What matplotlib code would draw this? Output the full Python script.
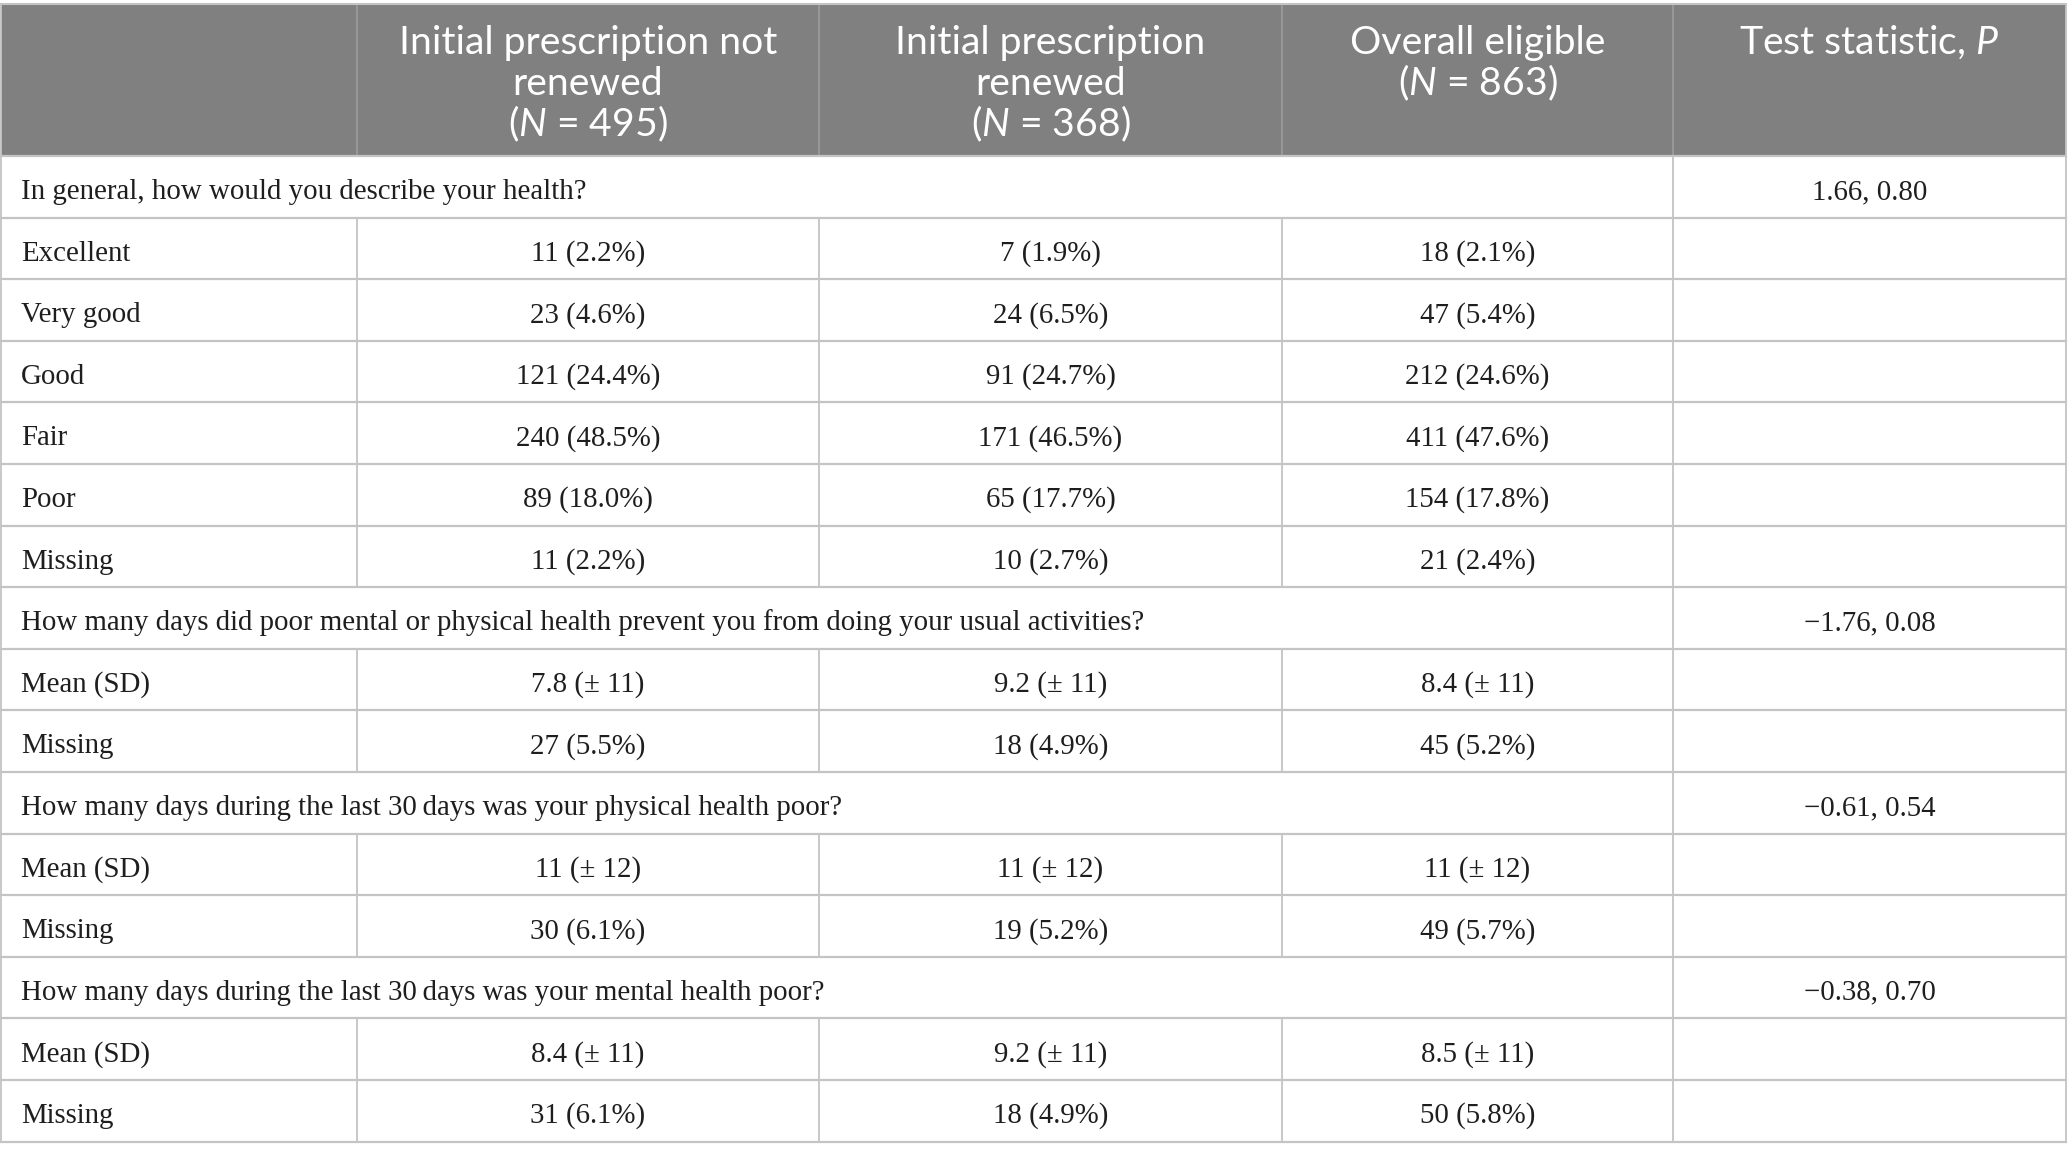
import matplotlib
matplotlib.use("Agg")
import matplotlib.pyplot as plt
from matplotlib.patches import Rectangle

# ---------------- data ----------------
header_cols = [
    ["Initial prescription not", "renewed", "($N$ = 495)"],
    ["Initial prescription", "renewed", "($N$ = 368)"],
    ["Overall eligible", "($N$ = 863)"],
    ["Test statistic, $P$"],
]

questions = [
    "In general, how would you describe your health?",
    "How many days did poor mental or physical health prevent you from doing your usual activities?",
    "How many days during the last 30\u2009days was your physical health poor?",
    "How many days during the last 30\u2009days was your mental health poor?",
]
test_stats = ["1.66, 0.80", "\u22121.76, 0.08", "\u22120.61, 0.54", "\u22120.38, 0.70"]

row_labels = [
    ["Excellent", "Very good", "Good", "Fair", "Poor", "Missing"],
    ["Mean (SD)", "Missing"],
    ["Mean (SD)", "Missing"],
    ["Mean (SD)", "Missing"],
]
not_renewed = [
    ["11 (2.2%)", "23 (4.6%)", "121 (24.4%)", "240 (48.5%)", "89 (18.0%)", "11 (2.2%)"],
    ["7.8 (\u00b1 11)", "27 (5.5%)"],
    ["11 (\u00b1 12)", "30 (6.1%)"],
    ["8.4 (\u00b1 11)", "31 (6.1%)"],
]
renewed = [
    ["7 (1.9%)", "24 (6.5%)", "91 (24.7%)", "171 (46.5%)", "65 (17.7%)", "10 (2.7%)"],
    ["9.2 (\u00b1 11)", "18 (4.9%)"],
    ["11 (\u00b1 12)", "19 (5.2%)"],
    ["9.2 (\u00b1 11)", "18 (4.9%)"],
]
overall = [
    ["18 (2.1%)", "47 (5.4%)", "212 (24.6%)", "411 (47.6%)", "154 (17.8%)", "21 (2.4%)"],
    ["8.4 (\u00b1 11)", "45 (5.2%)"],
    ["11 (\u00b1 12)", "49 (5.7%)"],
    ["8.5 (\u00b1 11)", "50 (5.8%)"],
]

# ---------------- style ----------------
W, H = 2068, 1156
col_edges = [1, 357, 819, 1282, 1673, 2066]
header_top, header_bot = 4, 156
row_h = 61.6
header_bg = "#7f807f"
grid_col = "#c4c4c4"
text_col = "#1e1e1e"
head_font = "Lato"
body_font = "Liberation Serif"
base_off = 43

plt.rcParams["mathtext.fontset"] = "custom"
plt.rcParams["mathtext.rm"] = head_font
plt.rcParams["mathtext.it"] = head_font + ":italic"

fig = plt.figure(figsize=(W / 100, H / 100), dpi=100)
ax = fig.add_axes([0, 0, 1, 1])
ax.set_xlim(0, W)
ax.set_ylim(H, 0)
ax.axis("off")
renderer = fig.canvas.get_renderer()


def fit_size(text, family, target_px, base=20):
    t = ax.text(0, 0, text, family=family, fontsize=base)
    w = t.get_window_extent(renderer).width
    t.remove()
    return base * target_px / w


head_fs = fit_size("Initial prescription not", head_font, 379)
body_fs = fit_size(questions[0], body_font, 563)

# header background
ax.add_patch(Rectangle((col_edges[0], header_top), col_edges[-1] - col_edges[0],
                       header_bot - header_top, facecolor=header_bg, edgecolor="none", zorder=1))
ax.plot([col_edges[0], col_edges[-1]], [header_top, header_top], color=grid_col, lw=1.5, zorder=3)
for x in col_edges[1:-1]:
    ax.plot([x, x], [header_top, header_bot], color="#9c9c9c", lw=1.2, zorder=2)

# header text (top aligned lines)
line_base = [54, 95, 136]
for ci, lines in enumerate(header_cols):
    xc = (col_edges[ci + 1] + col_edges[ci + 2]) / 2
    for li, s in enumerate(lines):
        ax.text(xc, line_base[li], s, family=head_font, fontsize=head_fs, color="white",
                ha="center", va="baseline", zorder=4)

# body
y = header_bot
hlines = [header_bot]
vsegs = []
for qi, q in enumerate(questions):
    ax.text(col_edges[0] + 20, y + base_off, q, family=body_font, fontsize=body_fs,
            color=text_col, ha="left", va="baseline", zorder=4)
    ax.text((col_edges[4] + col_edges[5]) / 2, y + base_off, test_stats[qi], family=body_font,
            fontsize=body_fs, color=text_col, ha="center", va="baseline", zorder=4)
    vsegs.append((col_edges[4], y, y + row_h))
    y += row_h
    hlines.append(y)
    for ri, lab in enumerate(row_labels[qi]):
        ax.text(col_edges[0] + 20, y + base_off, lab, family=body_font, fontsize=body_fs,
                color=text_col, ha="left", va="baseline", zorder=4)
        for cj, col in enumerate([not_renewed, renewed, overall]):
            xc = (col_edges[cj + 1] + col_edges[cj + 2]) / 2
            ax.text(xc, y + base_off, col[qi][ri], family=body_font, fontsize=body_fs,
                    color=text_col, ha="center", va="baseline", zorder=4)
        for x in col_edges[1:5]:
            vsegs.append((x, y, y + row_h))
        y += row_h
        hlines.append(y)

for yy in hlines:
    ax.plot([col_edges[0], col_edges[-1]], [yy, yy], color=grid_col, lw=1.6, zorder=3)
for x, y0, y1 in vsegs:
    ax.plot([x, x], [y0, y1], color=grid_col, lw=1.3, zorder=3)
for x in (col_edges[0], col_edges[-1]):
    ax.plot([x, x], [header_top, hlines[-1]], color=grid_col, lw=1.3, zorder=3)

fig.savefig("out.png", dpi=100, facecolor="white")
